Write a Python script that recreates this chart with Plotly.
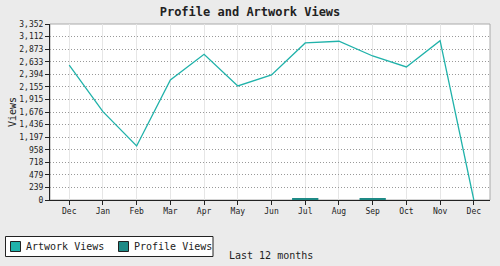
import plotly.graph_objects as go

months = ["Dec", "Jan", "Feb", "Mar", "Apr", "May", "Jun", "Jul", "Aug", "Sep", "Oct", "Nov", "Dec"]
artwork_views = [2571, 1682, 1029, 2286, 2775, 2172, 2381, 2991, 3023, 2743, 2534, 3035, 0]
profile_views = [0, 0, 0, 0, 0, 0, 0, 35, 0, 30, 0, 0, 0]
y_ticks = [0, 239, 479, 718, 958, 1197, 1436, 1676, 1915, 2155, 2394, 2633, 2873, 3112, 3352]
series_names = ["Artwork Views", "Profile Views"]

ART_COLOR = "#20B2AA"
PROF_COLOR = "#1E8A86"
x = list(range(len(months)))
FONT = "DejaVu Sans Mono"

# plot area in pixels: left 50, right 490, top 24, bottom 200
L, R, T, B = 50, 490, 24, 200
def px(v):
    return (v - L) / (R - L)
def py(v):
    return (B - v) / (B - T)

fig = go.Figure()
fig.add_trace(go.Bar(x=x, y=profile_views, name=series_names[1], showlegend=False,
                     marker=dict(color=PROF_COLOR, line=dict(width=0)), width=0.78))
fig.add_trace(go.Scatter(x=x, y=artwork_views, name=series_names[0], mode="lines", showlegend=False,
                         line=dict(color=ART_COLOR, width=1.3)))

shapes = [
    dict(type="rect", xref="x domain", yref="y domain", x0=0, x1=1, y0=0, y1=1,
         line=dict(color="#AAAAAA", width=1), layer="below"),
    # legend box
    dict(type="rect", xref="paper", yref="paper", x0=px(5.5), x1=px(213), y0=py(236.5), y1=py(256.5),
         fillcolor="#FFFFFF", line=dict(color="#222222", width=1)),
    dict(type="rect", xref="paper", yref="paper", x0=px(10.5), x1=px(20.5), y0=py(241.5), y1=py(251.5),
         fillcolor=ART_COLOR, line=dict(color="#222222", width=1)),
    dict(type="rect", xref="paper", yref="paper", x0=px(118.5), x1=px(128.5), y0=py(241.5), y1=py(251.5),
         fillcolor=PROF_COLOR, line=dict(color="#222222", width=1)),
]
annotations = [
    dict(text=series_names[0], xref="paper", yref="paper", x=px(24), y=py(246.5),
         xanchor="left", yanchor="middle", showarrow=False, font=dict(size=10, family=FONT, color="#222222")),
    dict(text=series_names[1], xref="paper", yref="paper", x=px(132), y=py(246.5),
         xanchor="left", yanchor="middle", showarrow=False, font=dict(size=10, family=FONT, color="#222222")),
    dict(text="Last 12 months", xref="paper", yref="paper", x=px(271), y=py(255),
         xanchor="center", yanchor="middle", showarrow=False,
         font=dict(size=10, family=FONT, color="#222222")),
]

fig.update_layout(
    width=500, height=266,
    margin=dict(l=L, r=500 - R, t=T, b=266 - B, autoexpand=False),
    paper_bgcolor="#EBEBEB", plot_bgcolor="#FFFFFF",
    font=dict(family=FONT, size=8, color="#222222"),
    title=dict(text="<b>Profile and Artwork Views</b>", x=0.5, xanchor="center",
               y=1 - 12/266, yanchor="middle", font=dict(size=12, family=FONT, color="#222222")),
    showlegend=False,
    bargap=0.2,
    shapes=shapes,
    annotations=annotations,
)
fig.update_xaxes(range=[-0.57, 12.48], tickvals=x, ticktext=months, tickangle=0,
                 showgrid=True, gridcolor="#E6E6E6", gridwidth=1,
                 showline=True, linecolor="#222222", linewidth=1,
                 ticks="outside", ticklen=4, tickcolor="#222222", zeroline=False,
                 ticklabelstandoff=-1)
fig.update_yaxes(range=[0, 3352], tickvals=y_ticks, ticktext=[f"{v:,}" for v in y_ticks],
                 showgrid=True, gridcolor="#999999", griddash="1px,2px", gridwidth=1,
                 showline=True, linecolor="#222222", linewidth=1,
                 ticks="outside", ticklen=4, tickcolor="#222222", zeroline=False,
                 title=dict(text="Views", standoff=0, font=dict(size=10, family=FONT)))

fig.write_html("out.html")
